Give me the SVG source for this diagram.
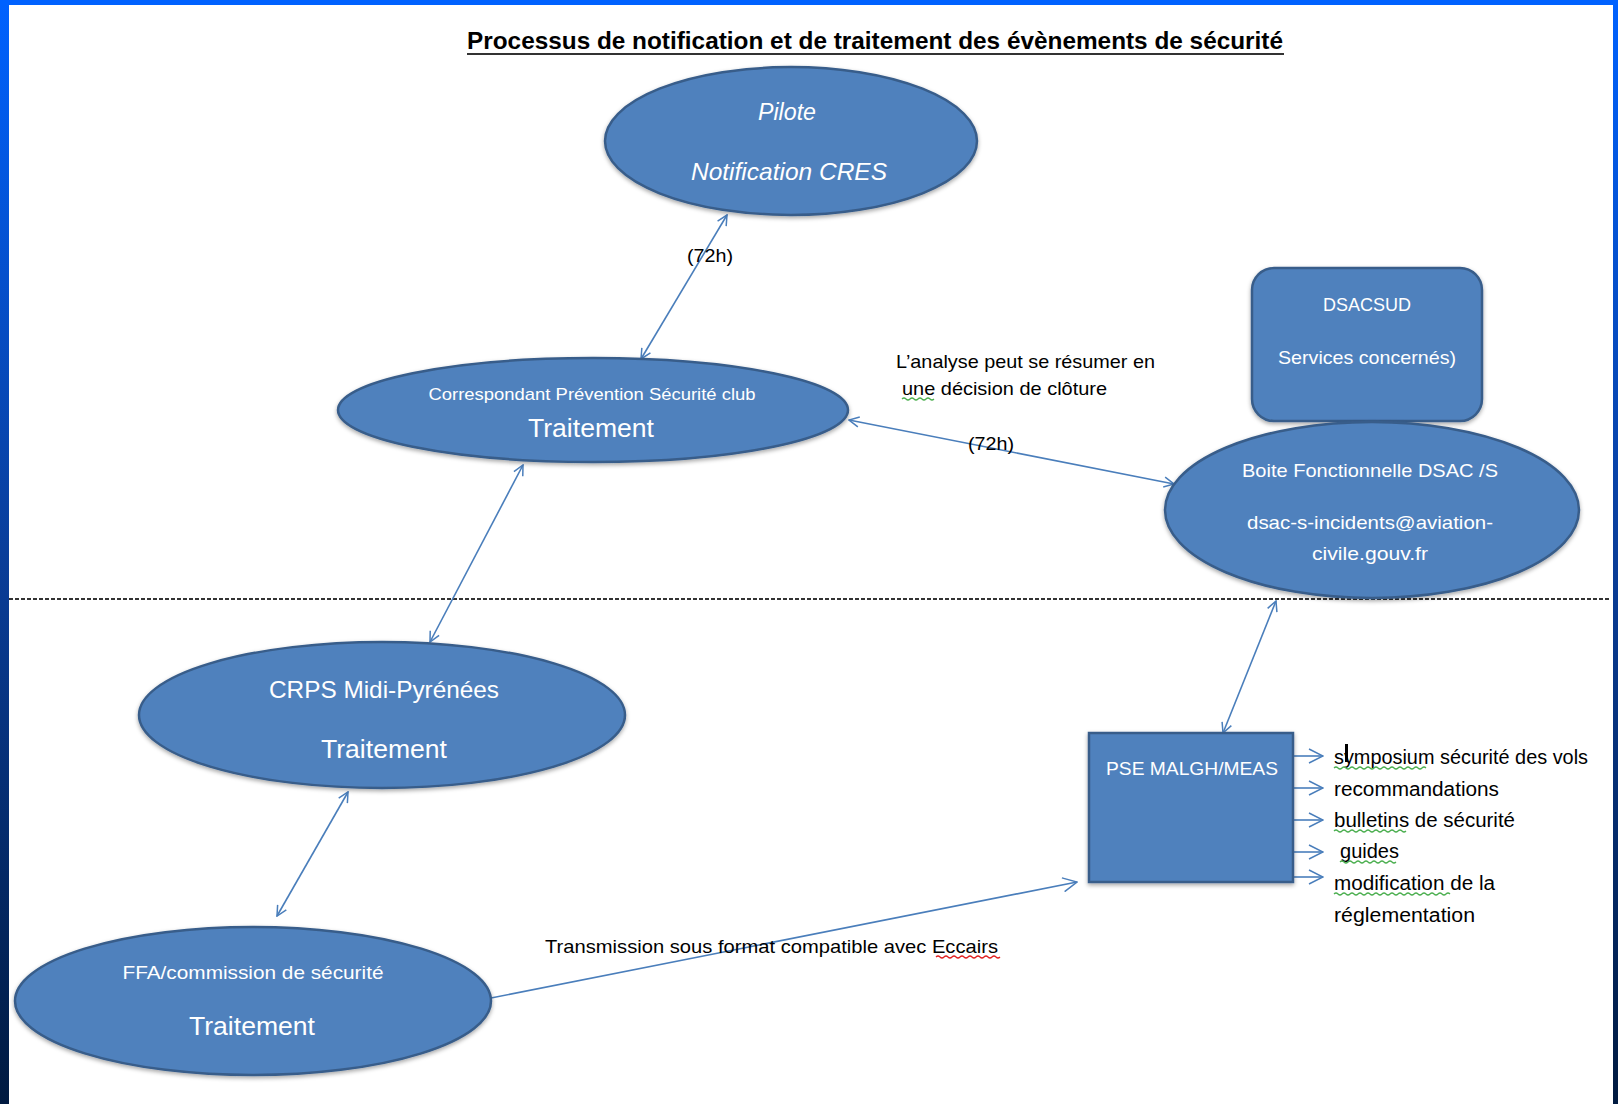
<svg xmlns="http://www.w3.org/2000/svg" width="1618" height="1104" viewBox="0 0 1618 1104">
  <defs>
    <linearGradient id="sideGrad" x1="0" y1="0" x2="0" y2="1">
      <stop offset="0" stop-color="#0062ff"/>
      <stop offset="0.5" stop-color="#0a3e9a"/>
      <stop offset="1" stop-color="#001a40"/>
    </linearGradient>
    <filter id="shadow" x="-10%" y="-10%" width="120%" height="130%">
      <feDropShadow dx="0" dy="2" stdDeviation="2" flood-color="#000" flood-opacity="0.35"/>
    </filter>
    <marker id="arrow" viewBox="0 0 12 12" refX="11" refY="6" markerWidth="12" markerHeight="12" markerUnits="userSpaceOnUse" orient="auto-start-reverse">
      <path d="M1,1 L11,6 L1,11" fill="none" stroke="#4a7ebb" stroke-width="1.5"/>
    </marker>
    <marker id="arrowBig" viewBox="0 0 16 16" refX="15" refY="8" markerWidth="16" markerHeight="16" markerUnits="userSpaceOnUse" orient="auto-start-reverse">
      <path d="M1,1 L15,8 L1,15" fill="none" stroke="#4a7ebb" stroke-width="1.5"/>
    </marker>
  </defs>
  <style>
    .shape { fill: #4f81bd; stroke: #385d8a; stroke-width: 2.5; filter: url(#shadow); }
    .wt { fill: #ffffff; font-family: "Liberation Sans", Arial, sans-serif; text-anchor: middle; }
    .bt { fill: #000000; font-family: "Liberation Sans", Arial, sans-serif; }
    .conn { stroke: #4a7ebb; stroke-width: 1.6; fill: none; }
    .green { stroke: #4caf50; stroke-width: 1.2; fill: none; }
    .red { stroke: #e02020; stroke-width: 1.2; fill: none; }
  </style>

  <rect x="0" y="0" width="1618" height="1104" fill="#ffffff"/>
  <!-- frame -->
  <rect x="0" y="0" width="9" height="1104" fill="url(#sideGrad)"/>
  <rect x="1613" y="0" width="5" height="1104" fill="url(#sideGrad)"/>
  <rect x="0" y="0" width="1618" height="5" fill="#0062ff"/>

  <!-- title -->
  <g id="title">
    <text x="875" y="49" font-family="'Liberation Sans Narrow', 'Liberation Sans', Arial, sans-serif" font-weight="bold" font-size="24" text-anchor="middle" textLength="816" lengthAdjust="spacingAndGlyphs" fill="#000">Processus de notification et de traitement des évènements de sécurité</text>
    <line x1="467" y1="54" x2="1284" y2="54" stroke="#333" stroke-width="2"/>
  </g>

  <!-- separator -->
  <line x1="9" y1="599" x2="1610" y2="599" stroke="#333" stroke-width="2" stroke-dasharray="4 2"/>

  <g id="connectors">
    <line class="conn" x1="727" y1="215" x2="641" y2="359" marker-start="url(#arrow)" marker-end="url(#arrow)"/>
    <line class="conn" x1="849" y1="420" x2="1174" y2="484" marker-start="url(#arrow)" marker-end="url(#arrow)"/>
    <line class="conn" x1="523" y1="465" x2="430" y2="642" marker-start="url(#arrow)" marker-end="url(#arrow)"/>
    <line class="conn" x1="348" y1="792" x2="277" y2="916" marker-start="url(#arrow)" marker-end="url(#arrow)"/>
    <line class="conn" x1="1276" y1="601" x2="1223" y2="733" marker-start="url(#arrow)" marker-end="url(#arrow)"/>
    <line class="conn" x1="491" y1="998" x2="1077" y2="882" marker-end="url(#arrowBig)"/>
    <line class="conn" x1="1291" y1="756" x2="1323" y2="756" marker-end="url(#arrowBig)"/>
    <line class="conn" x1="1291" y1="788" x2="1323" y2="788" marker-end="url(#arrowBig)"/>
    <line class="conn" x1="1291" y1="820" x2="1323" y2="820" marker-end="url(#arrowBig)"/>
    <line class="conn" x1="1291" y1="852" x2="1323" y2="852" marker-end="url(#arrowBig)"/>
    <line class="conn" x1="1291" y1="877" x2="1323" y2="877" marker-end="url(#arrowBig)"/>
  </g>

  <g id="pilote">
    <ellipse class="shape" cx="791" cy="141" rx="186" ry="74"/>
    <text class="wt" x="787" y="120" font-size="24" font-style="italic" textLength="58" lengthAdjust="spacingAndGlyphs">Pilote</text>
    <text class="wt" x="789" y="180" font-size="24" font-style="italic" textLength="196" lengthAdjust="spacingAndGlyphs">Notification CRES</text>
  </g>

  <g id="correspondant">
    <ellipse class="shape" cx="593" cy="410" rx="255" ry="52"/>
    <text class="wt" x="592" y="400" font-size="17" textLength="327" lengthAdjust="spacingAndGlyphs">Correspondant Prévention Sécurité club</text>
    <text class="wt" x="591" y="437" font-size="25" textLength="126" lengthAdjust="spacingAndGlyphs">Traitement</text>
  </g>

  <g id="dsacsud">
    <rect class="shape" x="1252" y="268" width="230" height="153" rx="22" ry="22"/>
    <text class="wt" x="1367" y="311" font-size="19" textLength="88" lengthAdjust="spacingAndGlyphs">DSACSUD</text>
    <text class="wt" x="1367" y="364" font-size="19" textLength="178" lengthAdjust="spacingAndGlyphs">Services concernés)</text>
  </g>

  <g id="boite">
    <ellipse class="shape" cx="1372" cy="510" rx="207" ry="88"/>
    <text class="wt" x="1370" y="477" font-size="19" textLength="256" lengthAdjust="spacingAndGlyphs">Boite Fonctionnelle DSAC /S</text>
    <text class="wt" x="1370" y="529" font-size="19" textLength="246" lengthAdjust="spacingAndGlyphs">dsac-s-incidents@aviation-</text>
    <text class="wt" x="1370" y="560" font-size="19" textLength="116" lengthAdjust="spacingAndGlyphs">civile.gouv.fr</text>
  </g>

  <g id="crps">
    <ellipse class="shape" cx="382" cy="715" rx="243" ry="73"/>
    <text class="wt" x="384" y="698" font-size="24" textLength="230" lengthAdjust="spacingAndGlyphs">CRPS Midi-Pyrénées</text>
    <text class="wt" x="384" y="758" font-size="25" textLength="126" lengthAdjust="spacingAndGlyphs">Traitement</text>
  </g>

  <g id="ffa">
    <ellipse class="shape" cx="253" cy="1001" rx="238" ry="74"/>
    <text class="wt" x="253" y="979" font-size="19" textLength="261" lengthAdjust="spacingAndGlyphs">FFA/commission de sécurité</text>
    <text class="wt" x="252" y="1035" font-size="25" textLength="126" lengthAdjust="spacingAndGlyphs">Traitement</text>
  </g>

  <g id="pse">
    <rect class="shape" x="1089" y="733" width="204" height="149"/>
    <text class="wt" x="1192" y="775" font-size="19" textLength="172" lengthAdjust="spacingAndGlyphs">PSE MALGH/MEAS</text>
  </g>

  <g id="labels">
    <text class="bt" x="710" y="262" font-size="19" text-anchor="middle" textLength="46" lengthAdjust="spacingAndGlyphs">(72h)</text>
    <text class="bt" x="991" y="450" font-size="19" text-anchor="middle" textLength="46" lengthAdjust="spacingAndGlyphs">(72h)</text>
    <text class="bt" x="896" y="368" font-size="19" textLength="259" lengthAdjust="spacingAndGlyphs">L’analyse peut se résumer en</text>
    <text class="bt" x="902" y="395" font-size="19" textLength="205" lengthAdjust="spacingAndGlyphs">une décision de clôture</text>
    <path class="green" d="M902,399 q2,-2 4,0 t4,0 t4,0 t4,0 t4,0 t4,0 t4,0 t4,0"/>
    <text class="bt" x="545" y="953" font-size="19" textLength="453" lengthAdjust="spacingAndGlyphs">Transmission sous format compatible  avec Eccairs</text>
    <path class="red" d="M936,957 q2,-2 4,0 t4,0 t4,0 t4,0 t4,0 t4,0 t4,0 t4,0 t4,0 t4,0 t4,0 t4,0 t4,0 t4,0 t4,0 t4,0"/>
  </g>

  <g id="outputs">
    <text class="bt" x="1334" y="764" font-size="20" textLength="254" lengthAdjust="spacingAndGlyphs">symposium sécurité des vols</text>
    <path class="green" d="M1334,768 q2,-2 4,0 t4,0 t4,0 t4,0 t4,0 t4,0 t4,0 t4,0 t4,0 t4,0 t4,0 t4,0 t4,0 t4,0 t4,0 t4,0 t4,0 t4,0 t4,0 t4,0 t4,0 t4,0 t4,0"/>
    <rect x="1345" y="744" width="3" height="18" fill="#000"/>
    <text class="bt" x="1334" y="796" font-size="20" textLength="165" lengthAdjust="spacingAndGlyphs">recommandations</text>
    <text class="bt" x="1334" y="827" font-size="20" textLength="181" lengthAdjust="spacingAndGlyphs">bulletins de sécurité</text>
    <path class="green" d="M1334,831 q2,-2 4,0 t4,0 t4,0 t4,0 t4,0 t4,0 t4,0 t4,0 t4,0 t4,0 t4,0 t4,0 t4,0 t4,0 t4,0 t4,0 t4,0 t4,0"/>
    <text class="bt" x="1340" y="858" font-size="20" textLength="59" lengthAdjust="spacingAndGlyphs">guides</text>
    <path class="green" d="M1340,862 q2,-2 4,0 t4,0 t4,0 t4,0 t4,0 t4,0 t4,0 t4,0 t4,0 t4,0 t4,0 t4,0 t4,0 t4,0"/>
    <text class="bt" x="1334" y="890" font-size="20" textLength="161" lengthAdjust="spacingAndGlyphs">modification de la</text>
    <path class="green" d="M1334,894 q2,-2 4,0 t4,0 t4,0 t4,0 t4,0 t4,0 t4,0 t4,0 t4,0 t4,0 t4,0 t4,0 t4,0 t4,0 t4,0 t4,0 t4,0 t4,0 t4,0 t4,0 t4,0 t4,0 t4,0 t4,0 t4,0 t4,0 t4,0 t4,0 t4,0"/>
    <text class="bt" x="1334" y="922" font-size="20" textLength="141" lengthAdjust="spacingAndGlyphs">réglementation</text>
  </g>
</svg>
